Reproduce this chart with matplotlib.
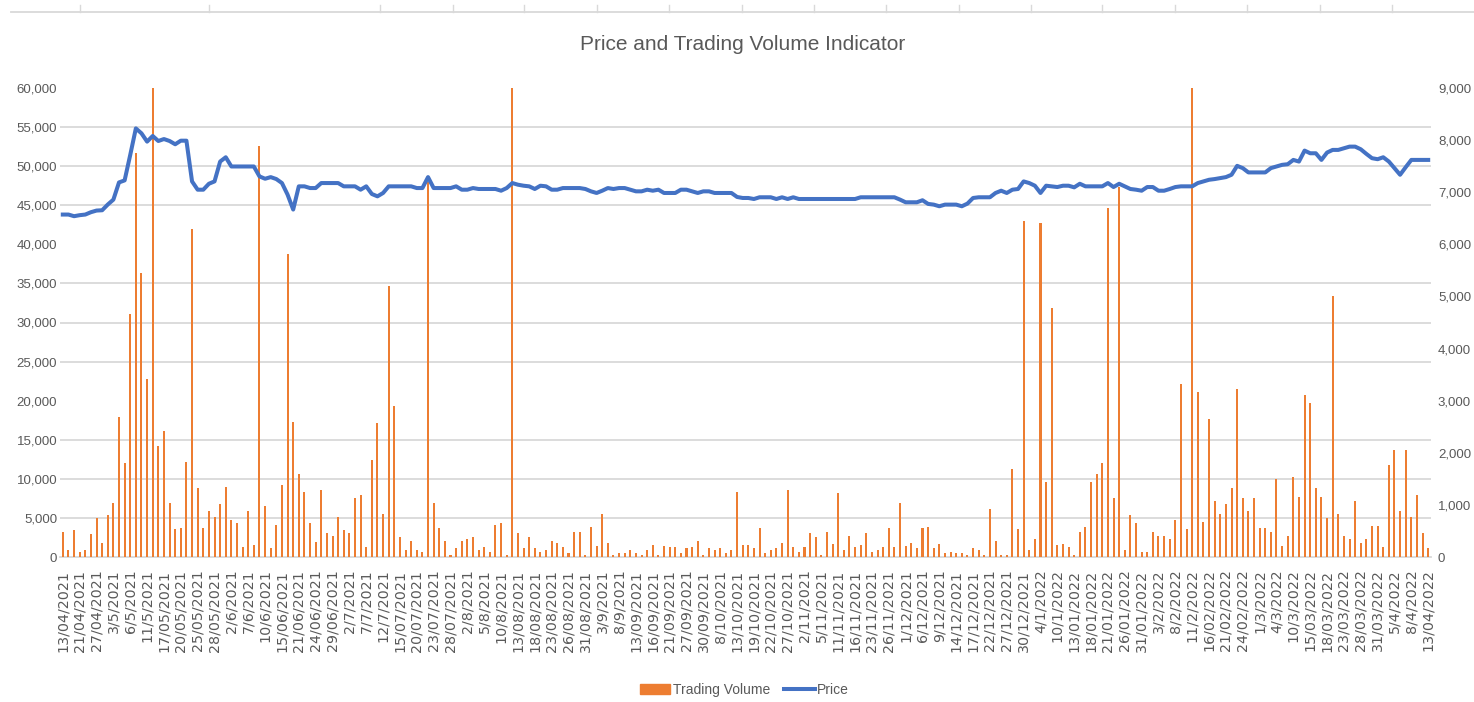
import numpy as np
import matplotlib
matplotlib.use("Agg")
import matplotlib.pyplot as plt
from matplotlib import font_manager
from matplotlib.lines import Line2D
from matplotlib.patches import Patch
from matplotlib.ticker import FuncFormatter

# ---------------- data ----------------
tick_labels = [
    "13/04/2021", "21/04/2021", "27/04/2021", "3/5/2021", "6/5/2021", "11/5/2021", "17/05/2021",
    "20/05/2021", "25/05/2021", "28/05/2021", "2/6/2021", "7/6/2021", "10/6/2021", "15/06/2021",
    "21/06/2021", "24/06/2021", "29/06/2021", "2/7/2021", "7/7/2021", "12/7/2021", "15/07/2021",
    "20/07/2021", "23/07/2021", "28/07/2021", "2/8/2021", "5/8/2021", "10/8/2021", "13/08/2021",
    "18/08/2021", "23/08/2021", "26/08/2021", "31/08/2021", "3/9/2021", "8/9/2021", "13/09/2021",
    "16/09/2021", "21/09/2021", "27/09/2021", "30/09/2021", "8/10/2021", "13/10/2021", "19/10/2021",
    "22/10/2021", "27/10/2021", "2/11/2021", "5/11/2021", "11/11/2021", "16/11/2021", "23/11/2021",
    "26/11/2021", "1/12/2021", "6/12/2021", "9/12/2021", "14/12/2021", "17/12/2021", "22/12/2021",
    "27/12/2021", "30/12/2021", "4/1/2022", "10/1/2022", "13/01/2022", "18/01/2022", "21/01/2022",
    "26/01/2022", "31/01/2022", "3/2/2022", "8/2/2022", "11/2/2022", "16/02/2022", "21/02/2022",
    "24/02/2022", "1/3/2022", "4/3/2022", "10/3/2022", "15/03/2022", "18/03/2022", "23/03/2022",
    "28/03/2022", "31/03/2022", "5/4/2022", "8/4/2022", "13/04/2022",
]

price = [
    43810, 43810, 43600, 43730, 43810, 44110, 44320, 44360, 45090, 45720,
    47920, 48180, 51440, 54830, 54200, 53140, 53860, 53220, 53470, 53220,
    52800, 53260, 53260, 48050, 46990, 46990, 47750, 48050, 50590, 51140,
    49960, 49960, 49960, 49960, 49960, 48690, 48390, 48600, 48350, 47840,
    46360, 44450, 47420, 47420, 47200, 47200, 47840, 47840, 47840, 47840,
    47420, 47420, 47420, 46990, 47420, 46440, 46140, 46570, 47420, 47420,
    47420, 47420, 47420, 47200, 47200, 48600, 47200, 47200, 47200, 47200,
    47420, 46990, 46990, 47200, 47080, 47080, 47080, 47080, 46860, 47200,
    47840, 47630, 47500, 47420, 47080, 47500, 47420, 46990, 46990, 47200,
    47200, 47200, 47200, 47080, 46780, 46570, 46860, 47200, 47080, 47200,
    47200, 46990, 46780, 46780, 46990, 46860, 46990, 46570, 46570, 46570,
    46990, 46990, 46780, 46570, 46780, 46780, 46570, 46570, 46570, 46570,
    46060, 45930, 45930, 45800, 46020, 46020, 46020, 45800, 46020, 45800,
    46020, 45800, 45800, 45800, 45800, 45800, 45800, 45800, 45800, 45800,
    45800, 45800, 46020, 46020, 46020, 46020, 46020, 46020, 46020, 45720,
    45380, 45380, 45380, 45640, 45170, 45080, 44870, 45080, 45080, 45080,
    44870, 45210, 45930, 46020, 46020, 46020, 46570, 46860, 46570, 46990,
    47080, 48050, 47840, 47500, 46570, 47500, 47420, 47330, 47500, 47500,
    47290, 47750, 47420, 47420, 47420, 47420, 47840, 47330, 47750, 47420,
    47080, 46990, 46860, 47330, 47330, 46860, 46860, 47080, 47330, 47420,
    47420, 47420, 47840, 48050, 48260, 48350, 48480, 48600, 48900, 50040,
    49750, 49200, 49200, 49200, 49200, 49750, 49960, 50170, 50250, 50800,
    50590, 51990, 51650, 51650, 50800, 51740, 52080, 52080, 52290, 52500,
    52500, 52160, 51570, 51020, 50890, 51140, 50590, 49750, 48900, 49870,
    50800, 50800, 50800, 50800,
]

volume = [
    486, 134, 518, 102, 134, 441, 742, 275, 806, 1043,
    2681, 1798, 4657, 7760, 5457, 3410, 9600, 2137, 2418, 1043,
    531, 550, 1830, 6288, 1318, 550, 889, 774, 1011, 1350,
    710, 646, 198, 889, 230, 7894, 979, 166, 614, 1382,
    5815, 2597, 1586, 1254, 646, 281, 1286, 467, 403, 774,
    518, 467, 1139, 1190, 186, 1862, 2565, 825, 5201, 2898,
    377, 134, 313, 134, 102, 7203, 1043, 550, 313, 38,
    166, 313, 339, 377, 134, 198, 102, 614, 646, 38,
    9600, 467, 166, 377, 166, 102, 134, 313, 275, 186,
    70, 486, 486, 38, 582, 217, 825, 275, 38, 70,
    70, 134, 70, 38, 134, 230, 38, 217, 186, 186,
    70, 166, 186, 307, 38, 166, 134, 166, 70, 134,
    1254, 230, 230, 166, 550, 70, 134, 166, 275, 1286,
    186, 102, 186, 467, 377, 38, 486, 249, 1222, 134,
    403, 186, 230, 467, 102, 134, 186, 550, 186, 1043,
    217, 275, 166, 550, 582, 166, 249, 70, 102, 70,
    70, 38, 166, 134, 38, 915, 313, 38, 38, 1682,
    531, 6448, 134, 339, 6416, 1433, 4772, 230, 249, 186,
    38, 486, 582, 1433, 1586, 1798, 6691, 1139, 7107, 134,
    806, 646, 102, 102, 486, 403, 403, 339, 710, 3320,
    531, 9600, 3173, 678, 2648, 1075, 825, 1011, 1318, 3224,
    1126, 889, 1126, 550, 550, 486, 1497, 217, 403, 1529,
    1158, 3109, 2949, 1318, 1158, 742, 5015, 825, 403, 339,
    1075, 275, 339, 595, 595, 186, 1766, 2053, 889, 2053,
    761, 1190, 467, 166,
]

price_ticks = list(range(0, 60001, 5000))
volume_ticks = list(range(0, 9001, 1000))

# ---------------- fonts ----------------
def has_font(name):
    try:
        font_manager.findfont(font_manager.FontProperties(family=name), fallback_to_default=False)
        return True
    except Exception:
        return False

NARROW = "Liberation Sans Narrow" if has_font("Liberation Sans Narrow") else "Liberation Sans"
TXT = "#595959"
ORANGE = "#ED7D31"
BLUE = "#4472C4"
GRID = "#D9D9D9"

# ---------------- figure ----------------
W, H = 1474, 702
fig = plt.figure(figsize=(W / 100, H / 100), dpi=100)
fig.patch.set_facecolor("white")

L, R, B, T = 60 / W, 1431 / W, 1 - 557 / H, 1 - 88 / H
ax2 = fig.add_axes([L, B, R - L, T - B])             # volume (right scale)
ax = fig.add_axes([L, B, R - L, T - B], sharex=ax2)  # price (left scale)

n = len(price)
x = np.arange(n)

# bars on the volume axis
ax2.bar(x, volume, width=0.36, color=ORANGE, zorder=3, label="Trading Volume")
ax2.set_ylim(0, 9000)
ax2.set_xlim(-0.5, n - 0.5)
ax2.yaxis.tick_right()
ax2.yaxis.set_label_position("right")
ax2.set_yticks(volume_ticks)
ax2.yaxis.set_major_formatter(FuncFormatter(lambda v, p: f"{int(v):,}"))
# horizontal gridlines matching the price axis ticks
ax2.set_yticks([v * 9000 / 60000 for v in price_ticks], minor=True)
ax2.grid(which="minor", axis="y", color=GRID, linewidth=1.3, zorder=0)
ax2.grid(which="major", visible=False)
ax2.set_axisbelow(True)
ax2.tick_params(axis="y", which="both", length=0, pad=5, labelsize=9.5, labelcolor=TXT)
for lab in ax2.get_yticklabels():
    lab.set_fontfamily(NARROW)

# price line on top
ax.patch.set_visible(False)
ax.plot(x, price, color=BLUE, linewidth=2.9, solid_joinstyle="round", label="Price", zorder=4)
ax.set_ylim(0, 60000)
ax.set_yticks(price_ticks)
ax.yaxis.set_major_formatter(FuncFormatter(lambda v, p: f"{int(v):,}"))
ax.tick_params(axis="y", length=0, pad=2, labelsize=9.5, labelcolor=TXT)
for lab in ax.get_yticklabels():
    lab.set_fontfamily(NARROW)

ax.set_xticks(np.arange(0, n, 3))
ax.set_xticklabels(tick_labels, rotation=90, fontsize=10.3, color=TXT, family="DejaVu Sans")
ax.tick_params(axis="x", length=0, pad=9)
ax2.tick_params(axis="x", length=0, labelbottom=False)

for a in (ax, ax2):
    for s in a.spines.values():
        s.set_visible(False)
ax2.spines["bottom"].set_visible(True)
ax2.spines["bottom"].set_color(GRID)
ax2.spines["bottom"].set_linewidth(1.3)

# title
fig.text(0.5035, 1 - 45 / H, "Price and Trading Volume Indicator", ha="center", va="center",
         fontsize=15, color=TXT, family=NARROW)

# legend
handles = [Patch(facecolor=ORANGE, edgecolor=ORANGE),
           Line2D([0], [0], color=BLUE, linewidth=2.9)]
leg = fig.legend(handles, ["Trading Volume", "Price"], loc="center",
                 bbox_to_anchor=(0.505, 1 - 690 / H), ncol=2, frameon=False,
                 handlelength=2.2, handleheight=0.8, handletextpad=0.2, columnspacing=1.0,
                 prop={"family": NARROW, "size": 10})
for t in leg.get_texts():
    t.set_color(TXT)

# decorative top strip (artifact of the source screenshot)
fig.add_artist(Line2D([11 / W, 1], [1 - 12 / H, 1 - 12 / H], color=GRID, linewidth=1.3))
for px in [80, 209, 380, 453, 524, 597, 669, 742, 814, 886, 959, 1031, 1102, 1175, 1247, 1320, 1392]:
    fig.add_artist(Line2D([px / W, px / W], [1 - 5 / H, 1 - 12 / H], color=GRID, linewidth=1.0))

fig.savefig("out.png", dpi=100, facecolor="white")
